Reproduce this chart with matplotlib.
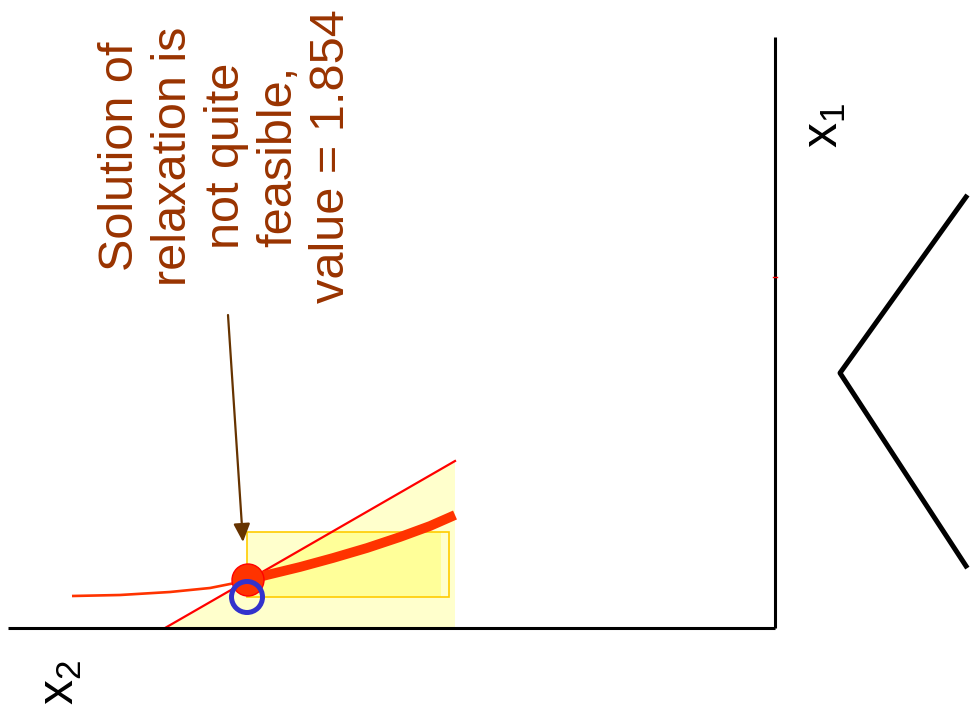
import numpy as np
import matplotlib
matplotlib.use("Agg")
import matplotlib.pyplot as plt
from matplotlib.patches import Circle, Rectangle, Polygon

# slide coordinates (pixels, y grows downwards)
axis_h_x = [8, 775]
axis_h_y = [628, 628]
axis_v_x = [775, 775]
axis_v_y = [37, 628]

cut_x = [165, 455]
cut_y = [628, 461]

curve_thin_x = [72, 120, 170, 210, 240, 248]
curve_thin_y = [596, 595, 592, 588, 582, 580]
curve_thick_x = [248, 267, 300, 333, 367, 400, 430, 455]
curve_thick_y = [580, 575, 567, 558, 548, 537, 526, 515]

box_x = [247, 449]
box_y = [532, 597]
box_fill_right = 441

relax_pt = (248, 580)
int_pt = (247, 597)

arrow_from = (228, 315)
arrow_to = (243, 542)

chevron_x = [966, 840, 966]
chevron_y = [197, 373, 566]

note = "Solution of\nrelaxation is\nnot quite\nfeasible,\nvalue = 1.854"

fig = plt.figure(figsize=(9.72, 7.2), dpi=100)
ax = fig.add_axes([0, 0, 1, 1])
ax.set_xlim(0, 972)
ax.set_ylim(720, 0)
ax.axis('off')

# pale feasible region under the cut
ax.add_patch(Polygon([(cut_x[0], cut_y[0]), (cut_x[1], cut_y[1]), (cut_x[1], axis_h_y[0])],
                     closed=True, facecolor='#FFFFCC', edgecolor='none', zorder=1))

# box, brighter part below the cut
slope = (cut_y[1] - cut_y[0]) / (cut_x[1] - cut_x[0])
y_at_left = cut_y[0] + slope * (box_x[0] - cut_x[0])
x_at_top = cut_x[0] + (box_y[0] - cut_y[0]) / slope
ax.add_patch(Rectangle((box_x[0], box_y[0]), box_fill_right - box_x[0], box_y[1] - box_y[0],
                       facecolor='#FFFFCC', edgecolor='none', zorder=2))
ax.add_patch(Polygon([(box_x[0], box_y[1]), (box_x[0], y_at_left), (x_at_top, box_y[0]),
                      (box_fill_right, box_y[0]), (box_fill_right, box_y[1])],
                     closed=True, facecolor='#FFFF99', edgecolor='none', zorder=2))
ax.add_patch(Rectangle((box_x[0], box_y[0]), box_x[1] - box_x[0], box_y[1] - box_y[0],
                       facecolor='none', edgecolor='#FFCC00', lw=1.2, zorder=3))

ax.plot(cut_x, cut_y, color='#FF0000', lw=1.6, zorder=4)

ax.plot(curve_thin_x, curve_thin_y, color='#FF3300', lw=1.9, zorder=5, solid_capstyle='butt')
ax.plot(curve_thick_x, curve_thick_y, color='#FF3300', lw=7, zorder=5, solid_capstyle='butt')

ax.add_patch(Circle(relax_pt, 16, facecolor='#FF3300', edgecolor='#FF0000', lw=1, zorder=6))
ax.add_patch(Circle(int_pt, 15.5, facecolor='none', edgecolor='#3333CC', lw=3.6, zorder=7))

ax.plot(axis_h_x, axis_h_y, color='black', lw=2.2, zorder=8, solid_capstyle='butt')
ax.plot(axis_v_x, axis_v_y, color='black', lw=2.2, zorder=8, solid_capstyle='butt')
ax.plot([773, 777], [277, 277], color='#FF0000', lw=1, zorder=9)

ax.annotate('', xy=arrow_to, xytext=arrow_from,
            arrowprops=dict(arrowstyle='-|>,head_length=1.1,head_width=0.5',
                            color='#663300', lw=1.6, shrinkA=0, shrinkB=0), zorder=9)

ax.text(226, 156, note, rotation=90, ha='center', va='center', multialignment='center',
        fontsize=35, family='Liberation Sans', color='#993300', linespacing=1.22)

ax.text(825, 125, r'x$_{\mathregular{1}}$', rotation=90, ha='center', va='center',
        fontsize=36, family='Liberation Sans', color='black')
ax.text(61, 682, r'x$_{\mathregular{2}}$', rotation=90, ha='center', va='center',
        fontsize=36, family='Liberation Sans', color='black')

ax.plot(chevron_x, chevron_y, color='black', lw=3.6, zorder=8)

fig.savefig('out.png', dpi=100)
